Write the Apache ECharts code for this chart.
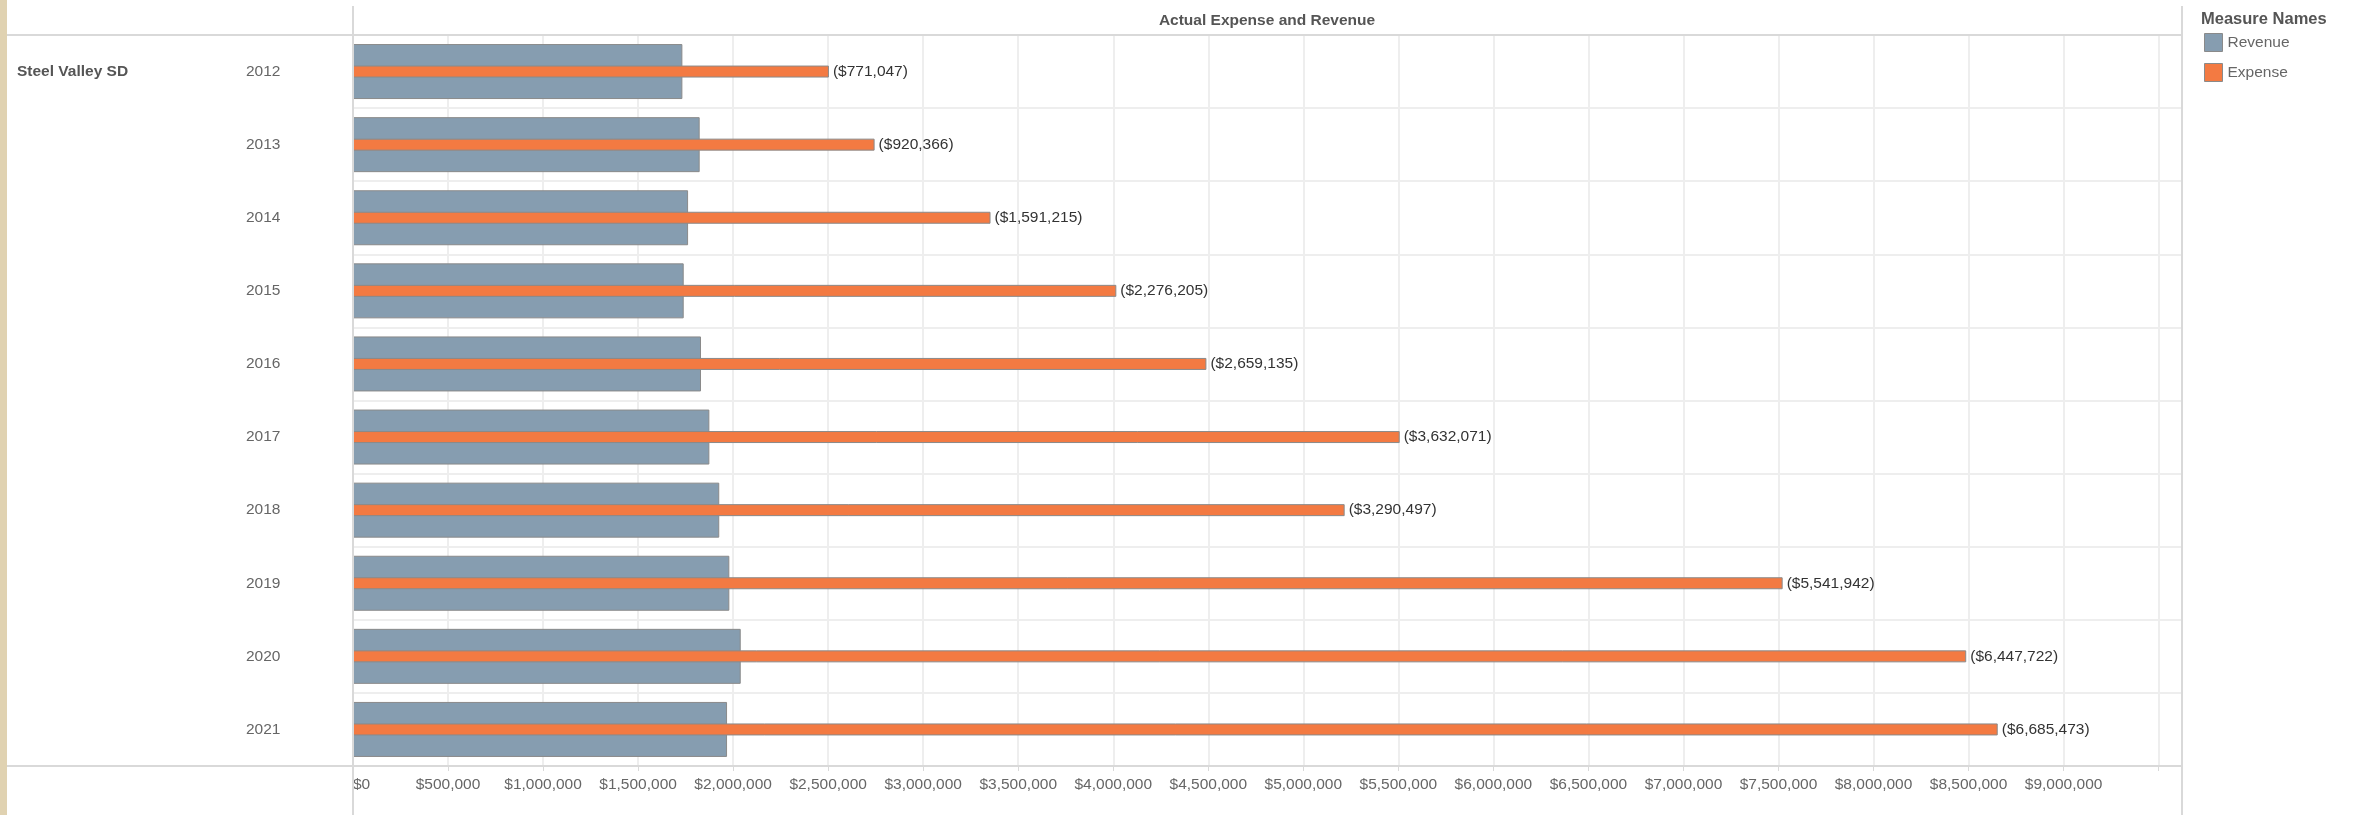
<!DOCTYPE html>
<html>
<head>
<meta charset="utf-8">
<script src="https://cdn.jsdelivr.net/npm/echarts@6/dist/echarts.min.js"></script>
<style>
  html, body { margin: 0; padding: 0; background: #fff; }
  #chart { width: 2354px; height: 815px; }
</style>
</head>
<body>
<div id="chart"></div>
<script>
const years = ['2012', '2013', '2014', '2015', '2016', '2017', '2018', '2019', '2020', '2021'];
const revenue = [1733000, 1824000, 1763000, 1740000, 1831000, 1875000, 1927000, 1980000, 2040000, 1968000];
const expense = [2504047, 2744366, 3354215, 4016205, 4490135, 5507071, 5217497, 7521942, 8487722, 8653473];
const deficit = [771047, 920366, 1591215, 2276205, 2659135, 3632071, 3290497, 5541942, 6447722, 6685473];
const seriesNames = ['Revenue', 'Expense'];
const chartTitle = 'Actual Expense and Revenue';
const rowHeader = 'Steel Valley SD';
const legendTitle = 'Measure Names';

const FONT = '"Liberation Sans", Arial, sans-serif';
const frame = '#d9d9d9';
const gridC = '#eeeeee';

const chart = echarts.init(document.getElementById('chart'));
chart.setOption({
  backgroundColor: '#ffffff',
  animation: false,
  textStyle: { fontFamily: FONT },
  grid: { left: 353, right: 172, top: 35, bottom: 49, containLabel: false },
  legend: {
    orient: 'vertical',
    left: 2204, top: 33, padding: 0,
    itemWidth: 18, itemHeight: 18, itemGap: 11, itemTextGap: 8,
    icon: 'rect',
    textStyle: { fontSize: 15.5, color: '#666', fontFamily: FONT },
    itemStyle: { borderColor: '#8a8a8a', borderWidth: 1 },
    data: seriesNames
  },
  xAxis: {
    type: 'value',
    min: 0, max: 9623000, interval: 500000,
    axisLine: { show: false },
    axisTick: { show: true, length: 5, lineStyle: { color: frame, width: 1 } },
    splitLine: { show: true, lineStyle: { color: gridC, width: 2 } },
    axisLabel: {
      fontSize: 15.5, color: '#666', fontFamily: FONT, margin: 11,
      alignMinLabel: 'left',
      formatter: v => (v > 9000000 || v % 500000 !== 0) ? '' : '$' + v.toLocaleString('en-US')
    }
  },
  yAxis: [
    {
      type: 'category', data: years, inverse: true,
      axisLine: { show: false }, axisTick: { show: false },
      splitLine: { show: true, lineStyle: { color: gridC, width: 2 } },
      axisLabel: { fontSize: 15.5, color: '#666', fontFamily: FONT, margin: 107, align: 'left' }
    },
    {
      type: 'category', data: years, inverse: true, show: false,
      axisLine: { show: false }, axisTick: { show: false }, splitLine: { show: false }
    }
  ],
  series: [
    {
      name: seriesNames[0], type: 'bar', yAxisIndex: 0, data: revenue,
      barWidth: 55, z: 2,
      itemStyle: { color: '#869db0', borderColor: '#8a8a8a', borderWidth: 1 }
    },
    {
      name: seriesNames[1], type: 'bar', yAxisIndex: 1, data: expense,
      barWidth: 12, z: 3,
      itemStyle: { color: '#f37a42', borderColor: '#8a8a8a', borderWidth: 1 },
      label: {
        show: true, position: 'right', distance: 4,
        fontSize: 15.5, color: '#333', fontFamily: FONT,
        formatter: p => '($' + deficit[p.dataIndex].toLocaleString('en-US') + ')'
      }
    }
  ],
  graphic: [
    { type: 'rect', shape: { x: 0, y: 0, width: 7, height: 815 }, style: { fill: '#e0d2b1' }, z: 10 },
    { type: 'line', shape: { x1: 353, y1: 6, x2: 353, y2: 815 }, style: { stroke: frame, lineWidth: 2 }, z: 10 },
    { type: 'line', shape: { x1: 2182, y1: 6, x2: 2182, y2: 815 }, style: { stroke: frame, lineWidth: 2 }, z: 10 },
    { type: 'line', shape: { x1: 7, y1: 35, x2: 2182, y2: 35 }, style: { stroke: frame, lineWidth: 2 }, z: 10 },
    { type: 'line', shape: { x1: 7, y1: 766, x2: 2182, y2: 766 }, style: { stroke: frame, lineWidth: 2 }, z: 10 },
    { type: 'text', x: 1267, y: 21, style: { text: chartTitle, font: 'bold 15.5px ' + FONT, fill: '#555', textAlign: 'center', textVerticalAlign: 'middle' }, z: 10 },
    { type: 'text', x: 17, y: 72, style: { text: rowHeader, font: 'bold 15.5px ' + FONT, fill: '#555', textAlign: 'left', textVerticalAlign: 'middle' }, z: 10 },
    { type: 'text', x: 2201, y: 19, style: { text: legendTitle, font: 'bold 16.5px ' + FONT, fill: '#555', textAlign: 'left', textVerticalAlign: 'middle' }, z: 10 }
  ]
});
</script>
</body>
</html>
